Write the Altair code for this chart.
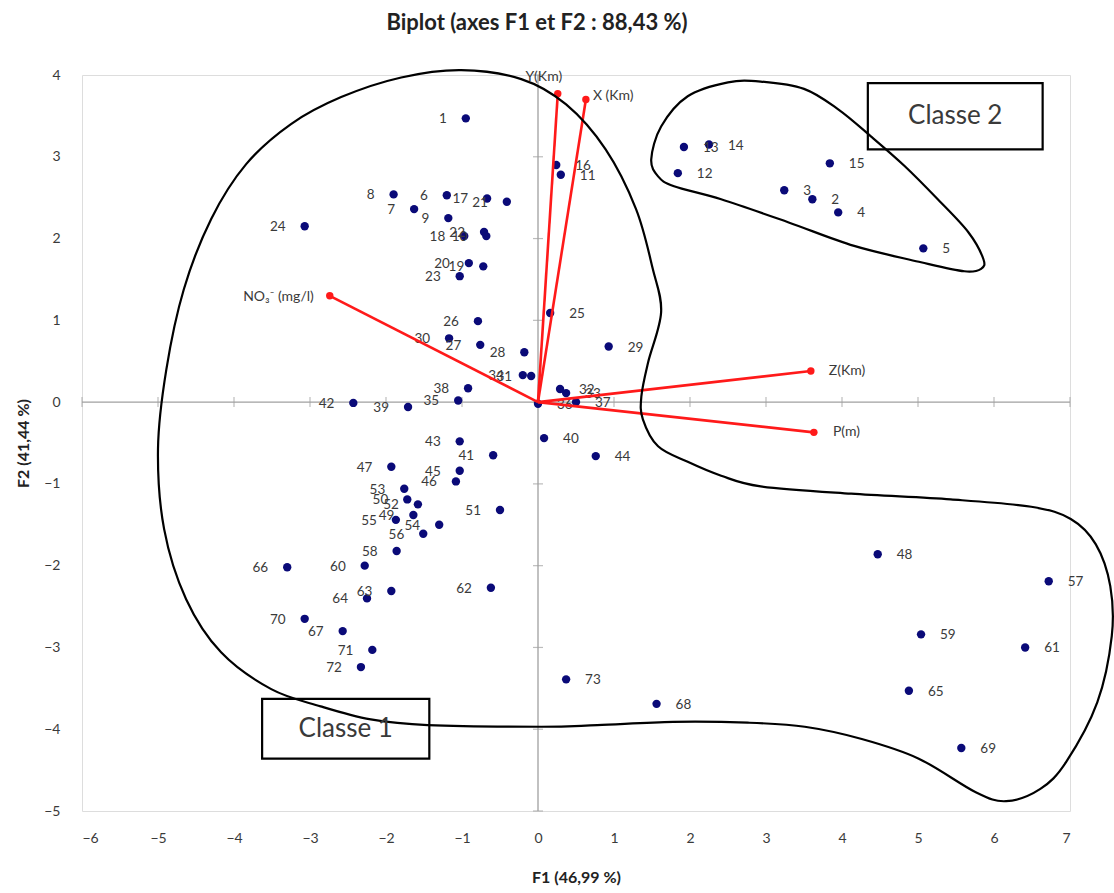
import altair as alt
import pandas as pd

# ---------------- data ----------------
obs_id = list(range(1, 74))
obs_f1 = [-0.95, 3.61, 3.24, 3.95, 5.07, -1.20, -1.63, -1.90, -1.18, -0.68,
          0.30, 1.84, 1.92, 2.25, 3.84, 0.24, -0.67, -0.97, -0.72, -0.91,
          -0.41, -0.71, -1.03, -3.07, 0.16, -0.79, -0.76, -0.18, 0.93, -1.17,
          -0.09, 0.29, 0.37, -0.20, -1.05, 0.00, 0.50, -0.92, -1.71, 0.08,
          -0.59, -2.43, -1.03, 0.76, -1.03, -1.08, -1.93, 4.47, -1.64, -1.72,
          -0.50, -1.58, -1.76, -1.30, -1.87, -1.51, 6.72, -1.86, 5.04, -2.28,
          6.41, -0.62, -1.93, -2.25, 4.88, -3.30, -2.57, 1.56, 5.57, -3.07,
          -2.18, -2.33, 0.37]
obs_f2 = [3.47, 2.48, 2.59, 2.32, 1.88, 2.53, 2.36, 2.54, 2.25, 2.03,
          2.78, 2.80, 3.12, 3.15, 2.92, 2.90, 2.49, 2.03, 1.66, 1.70,
          2.45, 2.08, 1.54, 2.15, 1.09, 0.99, 0.70, 0.61, 0.68, 0.78,
          0.32, 0.16, 0.11, 0.33, 0.02, -0.02, 0.00, 0.17, -0.06, -0.44,
          -0.65, -0.01, -0.48, -0.66, -0.84, -0.97, -0.79, -1.86, -1.38, -1.19,
          -1.32, -1.25, -1.06, -1.50, -1.44, -1.61, -2.19, -1.82, -2.84, -2.00,
          -3.00, -2.27, -2.31, -2.40, -3.53, -2.02, -2.80, -3.69, -4.23, -2.65,
          -3.03, -3.24, -3.39]

var_names = ["Y(Km)", "X (Km)", "NO\u2083\u207b (mg/l)", "Z(Km)", "P(m)"]
var_f1 = [0.26, 0.63, -2.74, 3.59, 3.63]
var_f2 = [3.77, 3.70, 1.30, 0.38, -0.37]

class1_f1 = [-1.01, -0.22, 0.37, 0.89, 1.29, 1.51, 1.62, 1.45, 1.36, 1.38,
             1.58, 1.97, 2.41, 2.93, 4.12, 5.43, 6.49, 7.01, 7.34, 7.53,
             7.55, 7.36, 6.95, 6.61, 6.16, 5.76, 5.01, 4.26, 3.51, 2.76,
             1.78, 0.78, 0.04, -1.45, -2.20, -2.86, -3.51, -4.17, -4.63, -4.92,
             -5.00, -4.89, -4.66, -4.30, -3.84, -3.25, -2.59, -1.80]
class1_f2 = [4.06, 3.95, 3.64, 3.09, 2.36, 1.63, 1.10, 0.49, 0.07, -0.21,
             -0.54, -0.73, -0.90, -1.03, -1.12, -1.19, -1.28, -1.43, -1.74, -2.25,
             -2.86, -3.67, -4.40, -4.73, -4.88, -4.77, -4.36, -4.12, -3.97, -3.92,
             -3.91, -3.95, -3.97, -3.95, -3.88, -3.72, -3.51, -3.06, -2.41, -1.55,
             -0.57, 0.40, 1.38, 2.24, 2.91, 3.40, 3.73, 3.97]

class2_f1 = [1.49, 1.62, 1.97, 2.50, 2.93, 3.50, 3.95, 4.38, 4.82, 5.26,
             5.66, 5.86, 5.83, 5.61, 5.04, 4.16, 3.29, 2.41, 1.79, 1.58]
class2_f2 = [2.97, 3.37, 3.74, 3.91, 3.92, 3.83, 3.58, 3.25, 2.89, 2.48,
             2.08, 1.75, 1.63, 1.60, 1.71, 1.91, 2.20, 2.48, 2.64, 2.76]

class_names = ["Classe 1", "Classe 2"]
class_box_f1 = [-3.63, 4.34]
class_box_f1_end = [-1.43, 6.64]
class_box_f2 = [-3.63, 3.90]
class_box_f2_end = [-4.36, 3.09]

x_ticks = list(range(-6, 8))
y_ticks = list(range(-5, 5))

# ---------------- styling ----------------
FONT = "Lato"
GRAY = "#a0a0a0"
TXT = "#3a3a3a"

xs = alt.Scale(domain=[-6, 7], nice=False, zero=False)
ys = alt.Scale(domain=[-5, 4], nice=False, zero=False)

obs = pd.DataFrame({"id": obs_id, "f1": obs_f1, "f2": obs_f2})
obs["lab"] = obs["id"].astype(str)
var = pd.DataFrame({"name": var_names, "f1": var_f1, "f2": var_f2})
c1 = pd.DataFrame({"f1": class1_f1, "f2": class1_f2, "o": range(len(class1_f1))})
c2 = pd.DataFrame({"f1": class2_f1, "f2": class2_f2, "o": range(len(class2_f1))})
boxes = pd.DataFrame({"name": class_names, "x1": class_box_f1, "x2": class_box_f1_end,
                      "y1": class_box_f2, "y2": class_box_f2_end})
boxes["xc"] = (boxes["x1"] + boxes["x2"]) / 2
boxes["yc"] = (boxes["y1"] + boxes["y2"]) / 2
xt = pd.DataFrame({"v": x_ticks})
yt = pd.DataFrame({"v": y_ticks})

axis_common = dict(grid=False, domain=False, ticks=False, format="d",
                   labelFont=FONT, labelFontSize=14, labelColor=TXT,
                   titleFont=FONT, titleFontSize=16, titleFontWeight="bold",
                   titleColor="#222222")
X = alt.X("f1:Q", scale=xs, title="F1 (46,99 %)",
          axis=alt.Axis(values=x_ticks, labelPadding=20, titlePadding=24, **axis_common))
Y = alt.Y("f2:Q", scale=ys, title="F2 (41,44 %)",
          axis=alt.Axis(values=y_ticks, labelPadding=22, titlePadding=12, **axis_common))

base_pts = alt.Chart(obs)
points = base_pts.mark_circle(size=70, color="#0a0a78", opacity=1).encode(x=X, y=Y)

lab_left = base_pts.transform_filter("datum.f1 < 0").mark_text(
    align="right", baseline="middle", dx=-19, dy=1, font=FONT, fontSize=13.5, color=TXT
).encode(x="f1:Q", y="f2:Q", text="lab:N")
lab_right = base_pts.transform_filter("datum.f1 >= 0").mark_text(
    align="left", baseline="middle", dx=19, dy=1, font=FONT, fontSize=13.5, color=TXT
).encode(x="f1:Q", y="f2:Q", text="lab:N")

# zero lines and their ticks
zero_h = alt.Chart(pd.DataFrame({"y": [0]})).mark_rule(color=GRAY, strokeWidth=1.3).encode(
    y=alt.Y("y:Q", scale=ys))
zero_v = alt.Chart(pd.DataFrame({"x": [0]})).mark_rule(color=GRAY, strokeWidth=1.3).encode(
    x=alt.X("x:Q", scale=xs))
ticks_x = alt.Chart(xt).mark_tick(orient="vertical", size=10, thickness=1.2, color=GRAY).encode(
    x=alt.X("v:Q", scale=xs), y=alt.datum(0))
ticks_y = alt.Chart(yt).mark_tick(orient="horizontal", size=10, thickness=1.2, color=GRAY).encode(
    y=alt.Y("v:Q", scale=ys), x=alt.datum(0))

# variable vectors
arrows = alt.Chart(var).mark_rule(color="#ff1a1a", strokeWidth=2.6).encode(
    x="f1:Q", y="f2:Q", x2=alt.datum(0), y2=alt.datum(0))
tips = alt.Chart(var).mark_circle(size=55, color="#ff1a1a", opacity=1).encode(x="f1:Q", y="f2:Q")

var_label_style = {
    "Y(Km)": dict(align="center", dx=-14, dy=-17),
    "X (Km)": dict(align="left", dx=7, dy=-4),
    "NO\u2083\u207b (mg/l)": dict(align="right", dx=-16, dy=1),
    "Z(Km)": dict(align="left", dx=18, dy=0),
    "P(m)": dict(align="left", dx=19, dy=0),
}
var_labels = []
for name, st in var_label_style.items():
    var_labels.append(
        alt.Chart(var).transform_filter(alt.datum.name == name).mark_text(
            baseline="middle", font=FONT, fontSize=14, color=TXT, **st
        ).encode(x="f1:Q", y="f2:Q", text="name:N")
    )

# class enclosures
curve1 = alt.Chart(c1).mark_line(interpolate="cardinal-closed", color="black",
                                  strokeWidth=2.2, clip=False).encode(
    x="f1:Q", y="f2:Q", order="o:Q")
curve2 = alt.Chart(c2).mark_line(interpolate="cardinal-closed", color="black",
                                  strokeWidth=2.2, clip=False).encode(
    x="f1:Q", y="f2:Q", order="o:Q")
box = alt.Chart(boxes).mark_rect(fillOpacity=0, stroke="black", strokeWidth=2.2).encode(
    x="x1:Q", x2="x2:Q", y="y1:Q", y2="y2:Q")
box_text = alt.Chart(boxes).mark_text(font=FONT, fontSize=26, color=TXT,
                                      baseline="middle", align="center").encode(
    x="xc:Q", y="yc:Q", text="name:N")

chart = alt.layer(
    zero_h, zero_v, ticks_x, ticks_y, points, lab_left, lab_right,
    arrows, tips, *var_labels, curve1, curve2, box, box_text
).properties(
    width=988, height=736,
    autosize=alt.AutoSizeParams(type="none"),
    padding={"left": 82, "top": 75, "right": 44, "bottom": 82},
    title=alt.TitleParams("Biplot (axes F1 et F2 : 88,43 %)", font=FONT, fontSize=22,
                          fontWeight="bold", color="#222222", anchor="middle",
                          dx=-39, offset=31),
).configure_view(
    stroke=GRAY, strokeWidth=1.3
).configure(background="white")

chart.save("out.html", embed_options={"renderer": "svg", "actions": False})
